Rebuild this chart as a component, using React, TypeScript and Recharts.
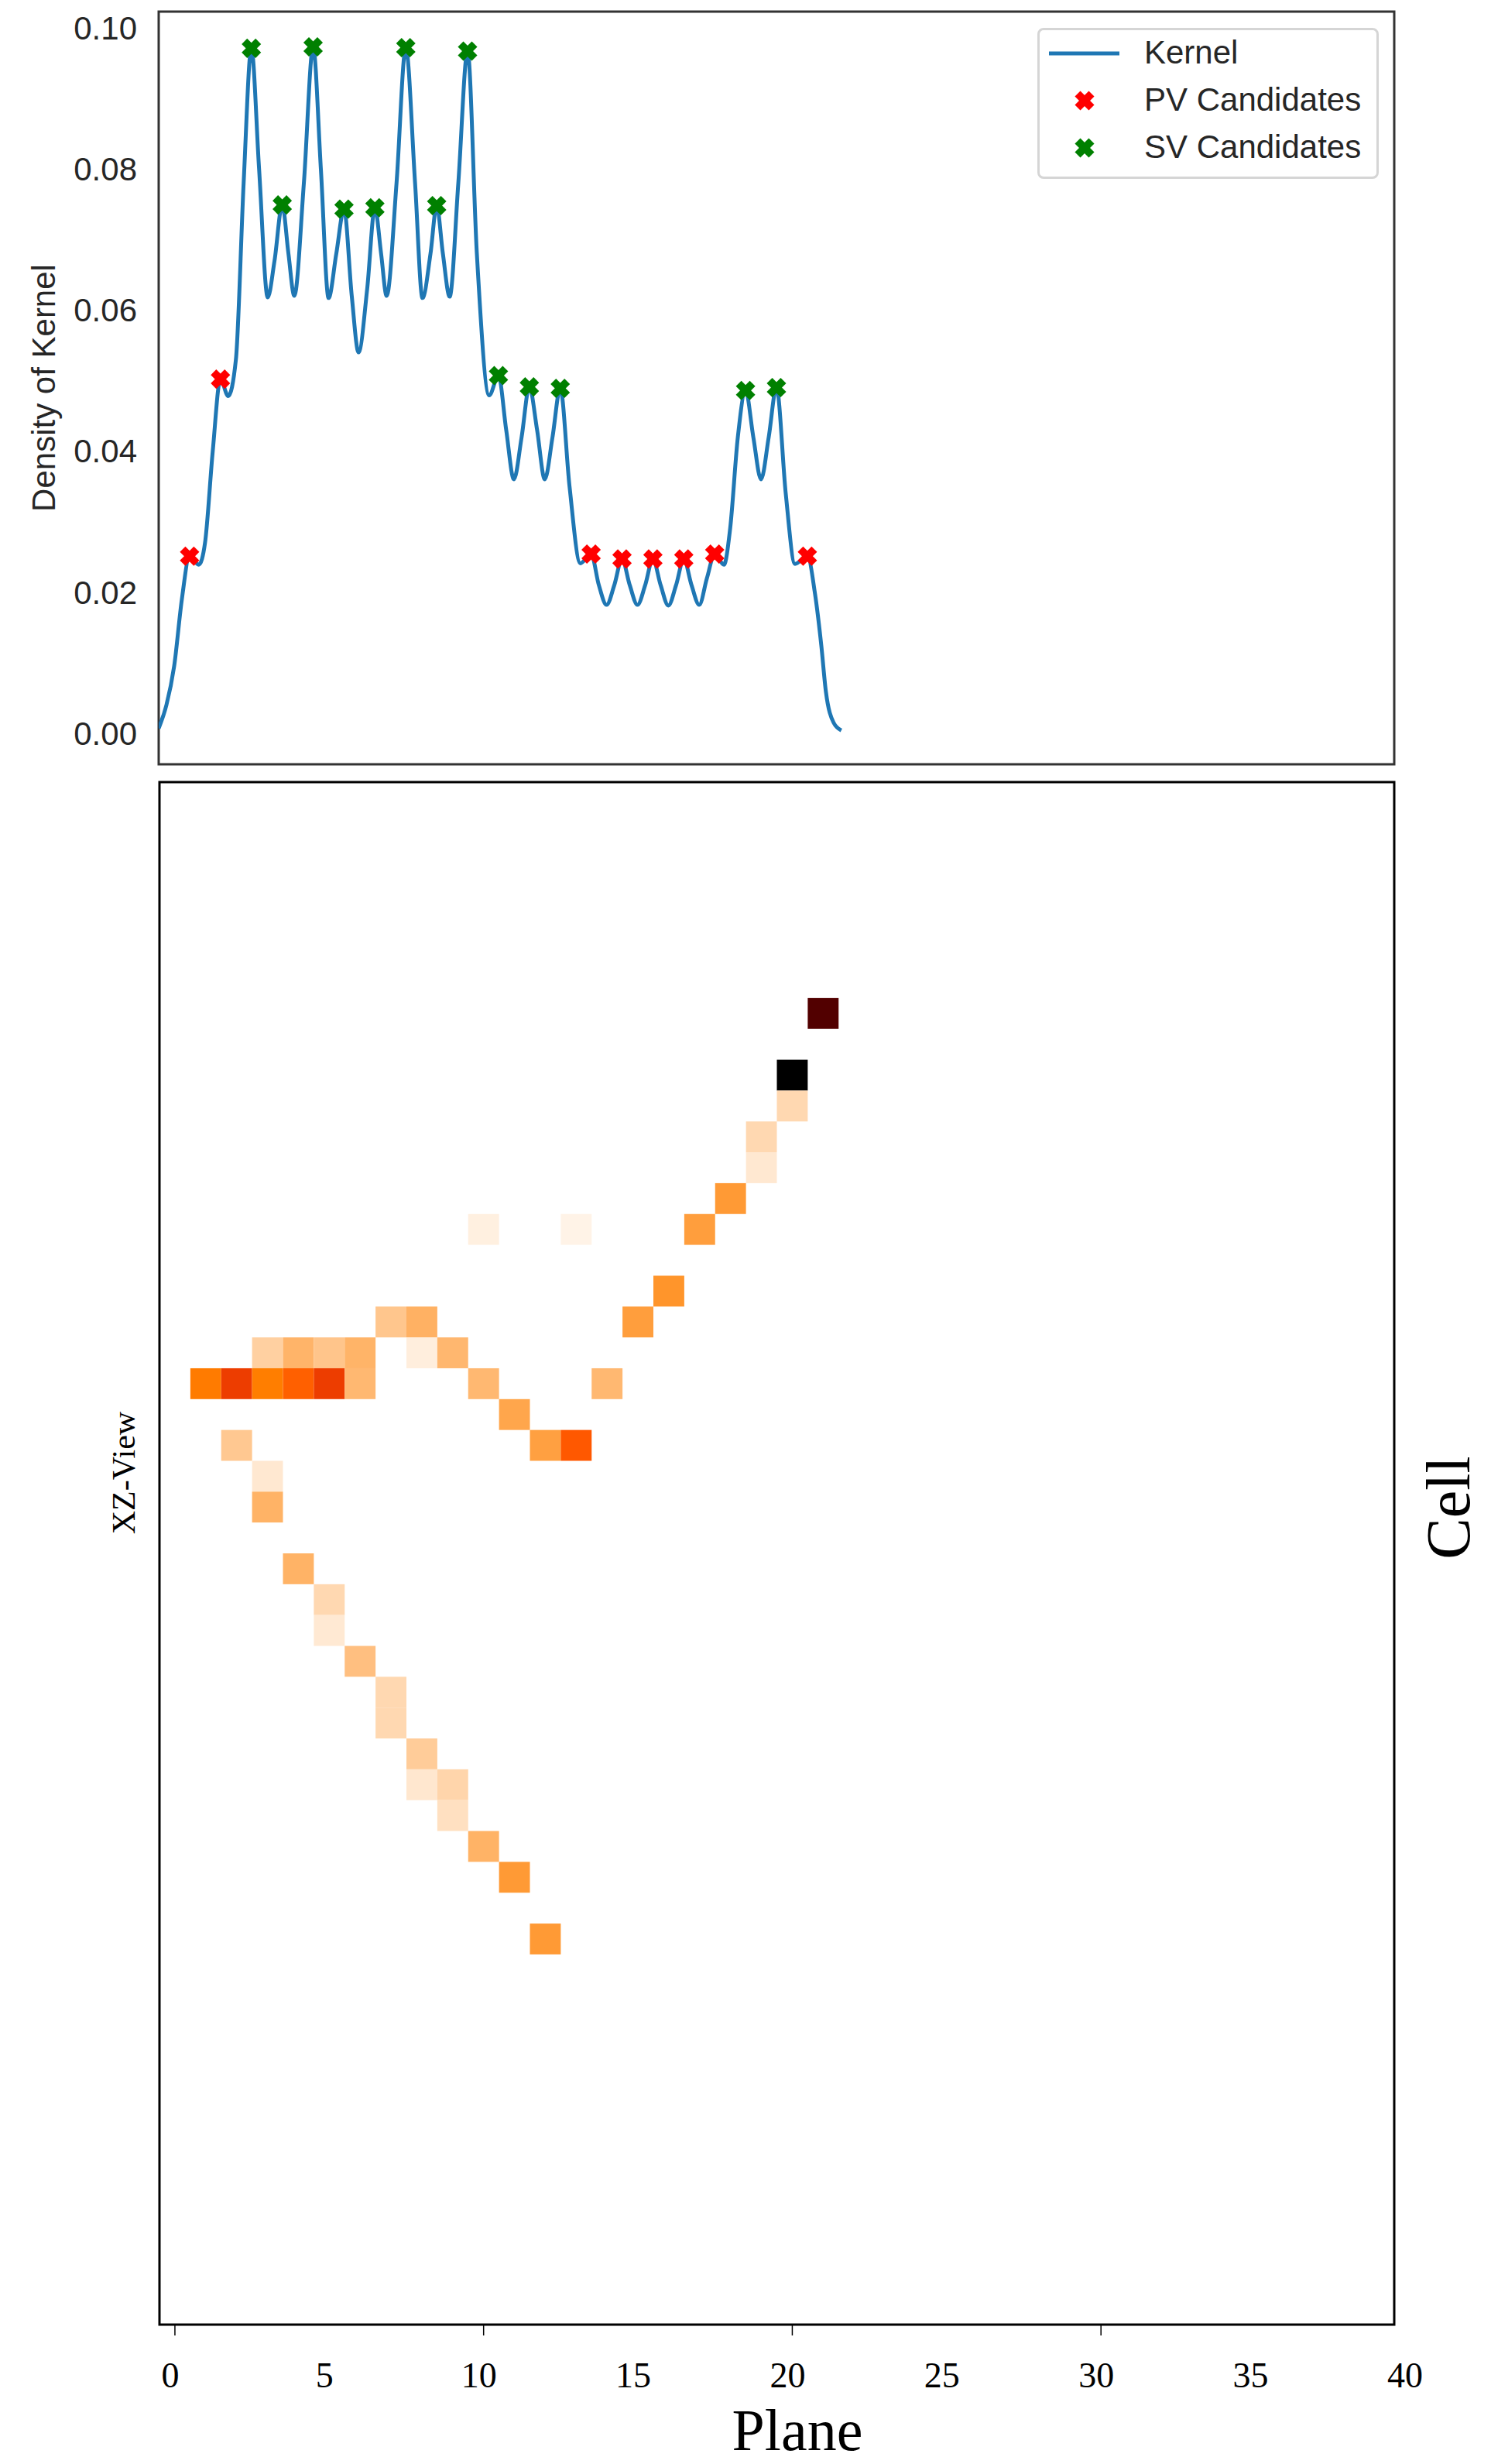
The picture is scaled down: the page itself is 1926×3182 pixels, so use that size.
import React from 'react';
import {
  ComposedChart,
  ScatterChart,
  Line,
  Scatter,
  XAxis,
  YAxis,
  ReferenceArea,
  Legend,
} from 'recharts';

// ---- kernel density (top panel) ----
const kernelX = [
  -0.5, -0.25, 0, 0.25, 0.5, 0.8, 1.0, 1.25, 1.5, 1.75, 2.0, 2.25, 2.5, 2.75, 3.03, 3.25, 3.5, 3.7, 3.89,
  4.2, 4.5, 4.75, 5.0, 5.25, 5.5, 5.75, 5.97, 6.25, 6.5, 6.7, 6.88, 7.2, 7.5, 7.8, 8.04, 8.3, 8.5, 8.7,
  8.92, 9.2, 9.5, 9.8, 10.2, 10.5, 10.75, 11.0, 11.25, 11.5, 11.75, 12.0, 12.25, 12.5, 12.8, 13.15, 13.5,
  13.75, 14.0, 14.25, 14.5, 14.75, 15.0, 15.25, 15.5, 15.75, 16.0, 16.25, 16.5, 16.75, 17.0, 17.25, 17.5,
  17.8, 18.0, 18.25, 18.5, 18.75, 19.0, 19.25, 19.5, 19.8, 20.1, 20.5, 20.75, 20.95, 21.1, 21.35, 21.6,
];
const kernelY = [
  0.0007, 0.004, 0.0095, 0.019, 0.0251, 0.0239, 0.027, 0.04, 0.0502, 0.0478, 0.053, 0.078, 0.0971, 0.08,
  0.0618, 0.067, 0.0749, 0.068, 0.062, 0.078, 0.0973, 0.08, 0.0617, 0.068, 0.0743, 0.062, 0.054, 0.063,
  0.0745, 0.068, 0.062, 0.078, 0.0972, 0.078, 0.0617, 0.068, 0.0748, 0.068, 0.0619, 0.078, 0.0967, 0.068,
  0.0479, 0.0507, 0.043, 0.036, 0.042, 0.0491, 0.043, 0.036, 0.042, 0.0489, 0.035, 0.0241, 0.0254, 0.021,
  0.0182, 0.021, 0.0247, 0.021, 0.0182, 0.021, 0.0247, 0.021, 0.0181, 0.021, 0.0247, 0.021, 0.0182, 0.022,
  0.0254, 0.0239, 0.029, 0.042, 0.0486, 0.042, 0.036, 0.042, 0.049, 0.034, 0.024, 0.0251, 0.0197, 0.0125,
  0.0059, 0.0015, 0.0004,
];

const pvX = [0.5, 1.5, 13.5, 14.5, 15.5, 16.5, 17.5, 20.5];
const pvY = [0.0251, 0.0502, 0.0254, 0.0247, 0.0247, 0.0247, 0.0254, 0.0251];

const svX = [2.5, 3.5, 4.5, 5.5, 6.5, 7.5, 8.5, 9.5, 10.5, 11.5, 12.5, 18.5, 19.5];
const svY = [0.0971, 0.0749, 0.0973, 0.0743, 0.0745, 0.0972, 0.0748, 0.0967, 0.0507, 0.0491, 0.0489, 0.0486, 0.049];

const densityTicks = [0, 0.02, 0.04, 0.06, 0.08, 0.1];

// ---- XZ view hits (bottom panel) ----
const hitPlane = [
  21, 20, 20, 19, 19, 18, 17, 10, 13, 16, 15, 7, 8, 3, 4, 5, 6, 8, 9, 1, 2, 3, 4, 5, 6, 10, 14, 11, 2, 12,
  13, 3, 3, 4, 5, 5, 6, 7, 7, 8, 8, 9, 9, 10, 11, 12,
];
const hitCell = [
  42, 40, 39, 38, 37, 36, 35, 35, 35, 33, 32, 32, 32, 31, 31, 31, 31, 31, 31, 30, 30, 30, 30, 30, 30, 30,
  30, 29, 28, 28, 28, 27, 26, 24, 23, 22, 21, 20, 19, 18, 17, 17, 16, 15, 14, 12,
];
const hitCharge = [
  0.786, 1.0, 0.076, 0.076, 0.045, 0.198, 0.19, 0.03, 0.024, 0.208, 0.19, 0.112, 0.153, 0.092, 0.147,
  0.114, 0.148, 0.033, 0.141, 0.259, 0.38, 0.253, 0.312, 0.38, 0.139, 0.139, 0.139, 0.175, 0.108, 0.186,
  0.328, 0.045, 0.15, 0.15, 0.076, 0.043, 0.125, 0.076, 0.076, 0.1, 0.047, 0.082, 0.061, 0.15, 0.198, 0.198,
];

const planeTicks = [0, 5, 10, 15, 20, 25, 30, 35, 40];
const cellTicks = [0, 10, 20, 30, 40];

const kernel = kernelX.map((x, i) => ({ x, y: kernelY[i] }));
const pv = pvX.map((x, i) => ({ x, y: pvY[i] }));
const sv = svX.map((x, i) => ({ x, y: svY[i] }));
const hits = hitPlane.map((x, i) => ({ x, y: hitCell[i], q: hitCharge[i] }));

const W = 1926;
const X_DOMAIN: [number, number] = [-0.5, 39.5];
const Y_DENSITY: [number, number] = [-0.0044, 0.1023];
const Y_CELL: [number, number] = [-0.5, 49.5];

// bottom plot area
const PLOT_LEFT = 206;
const PLOT_RIGHT = 1801;
const PLOT_H = 1992;
const CELL_W = (PLOT_RIGHT - PLOT_LEFT) / (X_DOMAIN[1] - X_DOMAIN[0]);
const CELL_H = PLOT_H / (Y_CELL[1] - Y_CELL[0]);

const sans = '"Liberation Sans", Arial, sans-serif';
const serif = '"Liberation Serif", "Times New Roman", serif';

// gist_heat_r
const heat = (t: number) => {
  const x = 1 - t;
  const c = (v: number) => Math.round(255 * Math.max(0, Math.min(1, v)));
  return `rgb(${c(1.5 * x)},${c(2 * x - 1)},${c(4 * x - 3)})`;
};

const XMark = ({ cx, cy, color }: { cx: number; cy: number; color: string }) => {
  const a = 9;
  return (
    <g>
      <line x1={cx - a} y1={cy - a} x2={cx + a} y2={cy + a} stroke={color} strokeWidth={10} />
      <line x1={cx - a} y1={cy + a} x2={cx + a} y2={cy - a} stroke={color} strokeWidth={10} />
    </g>
  );
};

const KernelLegend = () => (
  <div
    style={{
      width: 435,
      height: 189,
      border: '3px solid #d5d5d5',
      borderRadius: 8,
      background: '#fff',
      fontFamily: sans,
      fontSize: 42,
      color: '#262626',
      position: 'relative',
    }}
  >
    {[
      { label: 'Kernel', kind: 'line', color: '#1f77b4' },
      { label: 'PV Candidates', kind: 'x', color: '#ff0000' },
      { label: 'SV Candidates', kind: 'x', color: '#008000' },
    ].map((e, i) => (
      <div key={e.label} style={{ position: 'absolute', left: 0, top: 30 + i * 61, height: 0 }}>
        <svg width={130} height={40} style={{ position: 'absolute', left: 0, top: -20 }}>
          {e.kind === 'line' ? (
            <line x1={12} y1={20} x2={103} y2={20} stroke={e.color} strokeWidth={5} />
          ) : (
            <XMark cx={58} cy={20} color={e.color} />
          )}
        </svg>
        <span style={{ position: 'absolute', left: 135, top: -25, whiteSpace: 'nowrap', lineHeight: '48px' }}>
          {e.label}
        </span>
      </div>
    ))}
  </div>
);

const PlaneTick = (props: any) => {
  const { x, y, payload } = props;
  const v = payload.value;
  return (
    <g>
      {v % 10 === 0 && v <= X_DOMAIN[1] && (
        <line x1={x} y1={y - 14} x2={x} y2={y} stroke="#000" strokeWidth={1.5} />
      )}
      <text
        x={x - 6}
        y={y + 51}
        textAnchor="middle"
        dominantBaseline="central"
        fontFamily={serif}
        fontSize={46}
        fill="#000"
      >
        {v}
      </text>
    </g>
  );
};

export default function App() {
  return (
    <div style={{ position: 'absolute', left: 0, top: 0, width: W, height: 3182, background: '#fff' }}>
      <div style={{ position: 'absolute', left: 0, top: 0 }}>
        <ComposedChart width={W} height={1000} data={kernel} margin={{ top: 15, right: 125, bottom: 13, left: 85 }}>
          <XAxis type="number" dataKey="x" domain={X_DOMAIN} allowDataOverflow hide height={0} />
          <YAxis
            type="number"
            domain={Y_DENSITY}
            allowDataOverflow
            ticks={densityTicks}
            tickFormatter={(v: number) => v.toFixed(2)}
            width={120}
            axisLine={false}
            tickLine={false}
            tickSize={0}
            tickMargin={28}
            tick={{ fontFamily: sans, fontSize: 42, fill: '#262626' }}
            label={(p: any) => {
              const vb = p.viewBox || {};
              return (
                <text
                  x={56}
                  y={vb.y + vb.height / 2}
                  transform={`rotate(-90 56 ${vb.y + vb.height / 2})`}
                  textAnchor="middle"
                  dominantBaseline="central"
                  fontFamily={sans}
                  fontSize={42}
                  fill="#262626"
                >
                  Density of Kernel
                </text>
              );
            }}
          />
          <Line
            dataKey="y"
            type="monotone"
            stroke="#1f77b4"
            strokeWidth={5}
            dot={false}
            activeDot={false}
            isAnimationActive={false}
          />
          <Scatter
            data={pv}
            dataKey="y"
            isAnimationActive={false}
            shape={(p: any) => <XMark cx={p.cx} cy={p.cy} color="#ff0000" />}
          />
          <Scatter
            data={sv}
            dataKey="y"
            isAnimationActive={false}
            shape={(p: any) => <XMark cx={p.cx} cy={p.cy} color="#008000" />}
          />
          <ReferenceArea
            x1={X_DOMAIN[0]}
            x2={X_DOMAIN[1]}
            y1={Y_DENSITY[0]}
            y2={Y_DENSITY[1]}
            fill="none"
            fillOpacity={0}
            stroke="#333"
            strokeWidth={3}
            ifOverflow="visible"
          />
          <Legend
            layout="vertical"
            align="center"
            verticalAlign="middle"
            wrapperStyle={{ top: 36, left: 1340, width: 441 }}
            content={() => <KernelLegend />}
          />
        </ComposedChart>
      </div>

      <div style={{ position: 'absolute', left: 0, top: 1000 }}>
        <ScatterChart width={W} height={2182} margin={{ top: 10, right: 0, bottom: 0, left: PLOT_LEFT }}>
          <XAxis
            type="number"
            dataKey="x"
            domain={X_DOMAIN}
            allowDataOverflow
            ticks={planeTicks}
            interval={0}
            height={180}
            axisLine={false}
            tickLine={false}
            tickSize={14}
            tickMargin={0}
            tick={<PlaneTick />}
            label={() => (
              <text x={1030} y={2164} textAnchor="middle" fontFamily={serif} fontSize={76} fill="#000">
                Plane
              </text>
            )}
          />
          <YAxis
            type="number"
            dataKey="y"
            orientation="right"
            domain={Y_CELL}
            allowDataOverflow
            ticks={cellTicks}
            interval={0}
            width={W - PLOT_RIGHT}
            axisLine={false}
            tickSize={16}
            tickLine={{ stroke: '#000', strokeWidth: 1.5 }}
            tick={false}
            label={() => (
              <text
                x={1871}
                y={947}
                transform={`rotate(-90 1871 947)`}
                textAnchor="middle"
                dominantBaseline="central"
                fontFamily={serif}
                fontSize={80}
                fill="#000"
              >
                Cell
              </text>
            )}
          />
          <Scatter
            data={hits}
            isAnimationActive={false}
            shape={(p: any) => (
              <rect
                x={p.cx - CELL_W / 2}
                y={p.cy - CELL_H / 2}
                width={CELL_W}
                height={CELL_H}
                fill={heat(p.payload.q)}
              />
            )}
          />
          <ReferenceArea
            x1={X_DOMAIN[0]}
            x2={X_DOMAIN[1]}
            y1={Y_CELL[0]}
            y2={Y_CELL[1]}
            fill="none"
            fillOpacity={0}
            stroke="#000"
            strokeWidth={3}
            ifOverflow="visible"
          />
          <text
            x={160}
            y={902}
            transform="rotate(-90 160 902)"
            textAnchor="middle"
            dominantBaseline="central"
            fontFamily={serif}
            fontSize={42}
            fill="#000"
          >
            XZ-View
          </text>
        </ScatterChart>
      </div>
    </div>
  );
}
